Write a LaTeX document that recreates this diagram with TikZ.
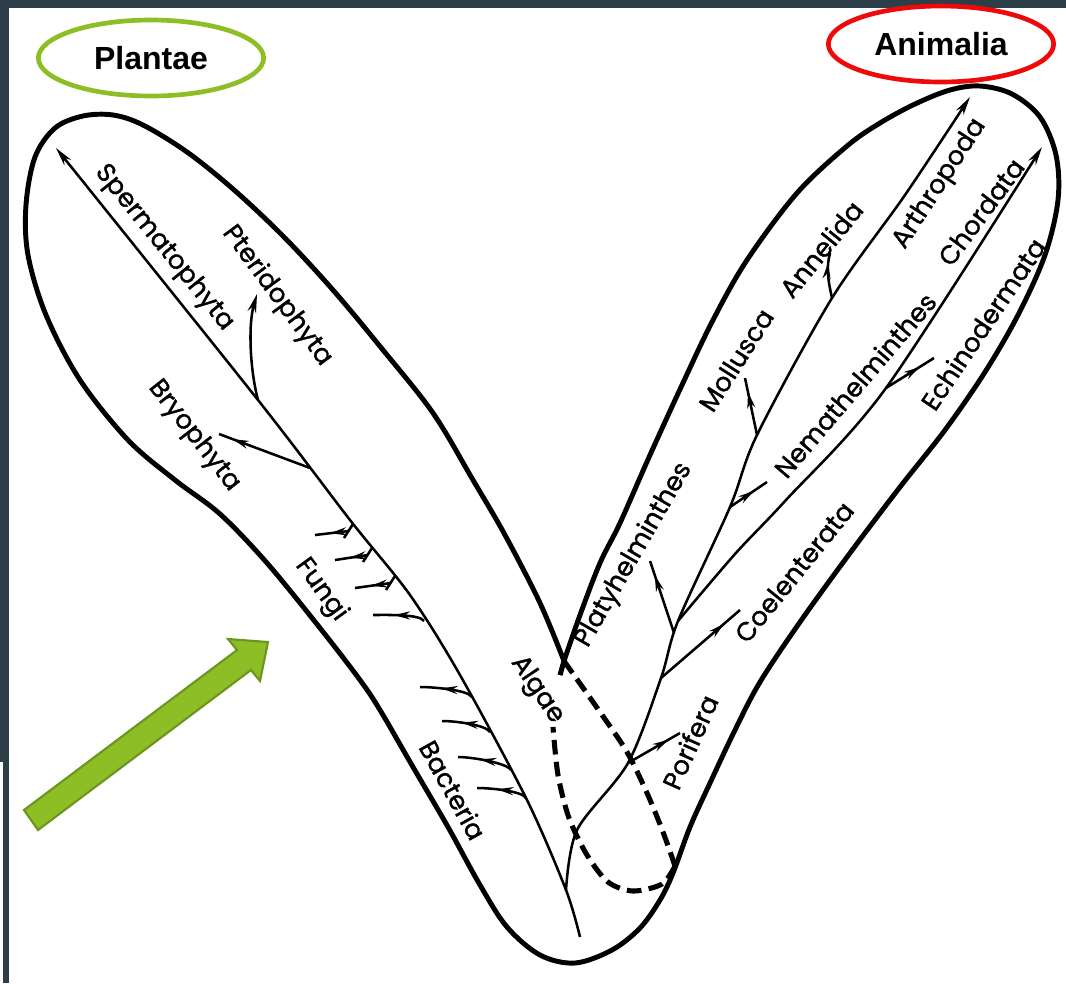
\documentclass[tikz,border=0pt]{standalone}
\usepackage{fontspec}
\setmainfont{Poppins}
\newfontfamily\taxonfont{Poppins}[FakeBold=1.2]
\newfontfamily\kingdomfont{Liberation Sans}
\usepackage{xcolor}
\usepackage{tikz}
\usetikzlibrary{arrows.meta,decorations.markings,shapes.geometric,calc}

\definecolor{framedark}{RGB}{44,62,72}
\definecolor{plantgreen}{RGB}{141,190,38}
\definecolor{arrowedge}{RGB}{108,150,30}
\definecolor{animalred}{RGB}{236,10,10}

\tikzset{
	bandline/.style={line width=3.7pt,line join=round},
	stemline/.style={line width=1.9pt},
	endtip/.style={-{Stealth[length=14pt,width=6.5pt]}},
	midtip/.style={postaction={decorate},decoration={markings,mark=at position #1 with {\arrow{Stealth[length=12pt,width=6pt]}}}},
	taxon/.style={inner sep=0.75pt,font=\taxonfont\fontsize{19.5}{21}\selectfont},
	kingdom/.style={ellipse,line width=3.5pt,minimum width=169pt,minimum height=57pt,inner sep=0.75pt,font=\kingdomfont\bfseries\fontsize{24}{28}\selectfont},
	linkline/.style={line width=3.8pt,dash pattern={on 11pt off 5.5pt}},
}

\begin{document}
\begin{tikzpicture}[x=0.75pt,y=0.75pt,yscale=-1,xscale=1]
	\useasboundingbox (0,0) rectangle (1066,983);
	
	%Shape: Rectangle (frame)
	\fill [framedark] (0,0) rectangle (1066,8);
	\fill [framedark] (0,0) rectangle (9,762);
	\fill [framedark] (3,762) rectangle (9,983);
	
	%Shape: Ellipse
	\node [kingdom,draw=plantgreen] (plantae) at (151,58) {Plantae};
	%Shape: Ellipse
	\node [kingdom,draw=animalred] (animalia) at (941,44) {Animalia};
	
	\coordinate (crotch) at (564,661);
	
	%Curve Lines
	\draw [bandline] plot [smooth,tension=0.55] coordinates {(crotch) (540,603) (505,535) (473,480) (433,413) (383,350) (333,290) (283,236) (233,189) (187,152) (143,125) (113,115) (83,116) (55,128) (35,157) (26,205) (28,255) (46,315) (80,380) (128,440) (175,480) (220,514) (267,563) (320,628) (360,680) (380,710) (413,767) (448,827) (480,885) (507,927) (540,955) (575,963) (612,950) (640,928) (660,900) (673,873) (690,827) (710,783) (735,730) (760,682) (800,622) (850,553) (900,487) (945,430) (985,372) (1018,315) (1045,255) (1058,200) (1056,155) (1040,117) (1012,94) (980,86) (950,90) (915,104) (880,123) (847,146) (797,193) (747,260) (713,320) (682,385) (650,455) (620,523) (600,563) (580,615) (crotch)};
	
	% plant stem
	\coordinate (sperm tip) at (56,148);
	\coordinate (pter base) at (258,400);
	\coordinate (bryo base) at (310,468);
	\coordinate (merge) at (566,890);
	\coordinate (root) at (580,937);
	%Curve Lines
	\draw [stemline,endtip] plot [smooth] coordinates {(root) (merge) (527,800) (460,675) (410,595) (350,520) (pter base) (sperm tip)};
	%Curve Lines
	\coordinate (pter tip) at (257,294);
	\draw [stemline,endtip] (pter base) .. controls (250,370) and (248,325) .. (pter tip);
	%Straight Lines
	\coordinate (bryo tip) at (219,434);
	\draw [stemline,midtip=0.85] (bryo base) -- (bryo tip);
	
	% fungi side shoots
	\foreach \sx/\sy/\lx/\ly in {353/524/315/535, 372/548/335/560, 395/576/355/588}{
		\coordinate (fs) at (\sx,\sy);
		\coordinate (fl) at (\lx,\ly);
		\draw [stemline] (fs) -- ++(-9,14);
		\draw [stemline,midtip=0.55] ($(fs)+(-4,7)$) -- (fl);
	}
	% bacteria side shoots (and last fungi)
	\foreach \jx/\jy/\lx/\ly in {424/621/373/615, 472/697/420/687, 490/732/442/721, 511/770/458/757, 526/798/477/788}{
		\coordinate (bj) at (\jx,\jy);
		\coordinate (bl) at (\lx,\ly);
		\draw [stemline,midtip=0.6] (bj) .. controls +(-4,-7) and +(14,0) .. (bl);
	}
	
	% animal stem
	\coordinate (pori base) at (628,763);
	\coordinate (coel base) at (661,678);
	\coordinate (platy base) at (674,633);
	\coordinate (split) at (678,621);
	\coordinate (nema base) at (730,507);
	\coordinate (moll base) at (757,435);
	\coordinate (anne base) at (832,298);
	\coordinate (arth tip) at (970,97);
	\coordinate (echi base) at (886,388);
	\coordinate (chor tip) at (1042,147);
	%Curve Lines
	\draw [stemline,endtip] plot [smooth] coordinates {(merge) (577,830) (pori base) (coel base) (split) (nema base) (moll base) (anne base) (905,195) (arth tip)};
	%Curve Lines
	\draw [stemline,endtip] plot [smooth] coordinates {(split) (735,554) (786,500) (echi base) (chor tip)};
	%Straight Lines
	\draw [stemline,midtip=0.78] (pori base) -- (680,733);
	\draw [stemline,midtip=0.8] (coel base) -- (740,610);
	\draw [stemline,midtip=0.8] (platy base) -- (650,561);
	\draw [stemline,midtip=0.65] (nema base) -- (767,482);
	\draw [stemline,midtip=0.75] (moll base) -- (745,378);
	\draw [stemline,midtip=0.78] (anne base) .. controls (828,280) and (826,268) .. (830,253);
	\draw [stemline,midtip=0.7] (echi base) -- (934,358);
	
	% algae link
	\coordinate (link end) at (675,866);
	%Curve Lines
	\draw [linkline] plot [smooth] coordinates {(crotch) (600,712) (627,752) (647,793) (663,832) (link end)};
	\draw [linkline] plot [smooth] coordinates {(link end) (662,884) (633,891) (608,882) (587,855) (569,818) (558,775) (553,727)};
	\draw [linkline] (crotch) -- (558,682);
	
	%Shape: Arrow
	\filldraw [fill=plantgreen,draw=arrowedge,line width=1.6pt,line join=miter] (24,810) -- (237,650) -- (228,639) -- (268,642) -- (260,681) -- (251,670) -- (38,830) -- cycle;
	
	% Text Node
	\node [taxon,rotate=-51] (sperm) at (164,248) {Spermatophyta};
	% Text Node
	\node [taxon,rotate=-53.5] (pter) at (277,296) {Pteridophyta};
	% Text Node
	\node [taxon,rotate=-52] (bryo) at (194,436) {Bryophyta};
	% Text Node
	\node [taxon,rotate=-54] (fungi) at (321,590) {Fungi};
	% Text Node
	\node [taxon,rotate=-61] (bact) at (453,790) {Bacteria};
	% Text Node
	\node [taxon,rotate=-56] (algae) at (537,690) {Algae};
	% Text Node
	\node [taxon,rotate=60] (platy) at (634,555) {Platyhelminthes};
	% Text Node
	\node [taxon,rotate=66] (pori) at (690,742) {Porifera};
	% Text Node
	\node [taxon,rotate=51] (coel) at (794,572) {Coelenterata};
	% Text Node
	\node [taxon,rotate=57.5] (moll) at (736,360) {Mollusca};
	% Text Node
	\node [taxon,rotate=51] (anne) at (821,249) {Annelida};
	% Text Node
	\node [taxon,rotate=57] (arth) at (940,184) {Arthropoda};
	% Text Node
	\node [taxon,rotate=53.5] (chor) at (981,212) {Chordata};
	% Text Node
	\node [taxon,rotate=49.5] (nema) at (855,385) {Nemathelminthes};
	% Text Node
	\node [taxon,rotate=56] (echi) at (983,324) {Echinodermata};
	
\end{tikzpicture}
\end{document}
